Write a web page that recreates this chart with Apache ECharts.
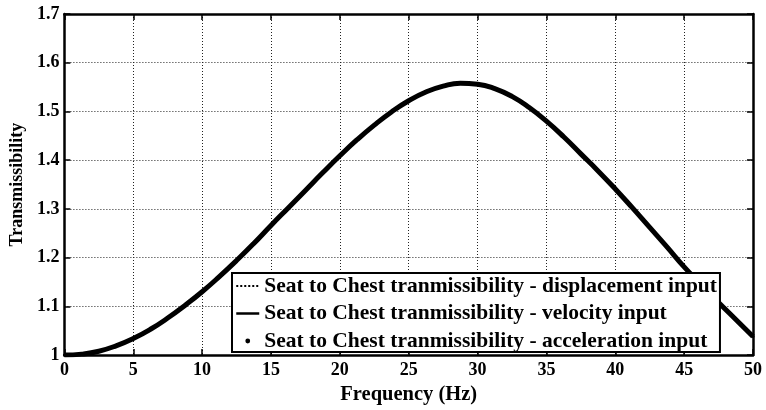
<!DOCTYPE html>
<html>
<head>
<meta charset="utf-8">
<script src="https://cdn.jsdelivr.net/npm/echarts@6/dist/echarts.min.js"></script>
<style>
html,body{margin:0;padding:0;background:#fff;}
#c{width:766px;height:410px;}
</style>
</head>
<body>
<div id="c"></div>
<script>
// Frequency (Hz)
const freq = [0, 1.25, 2.5, 3.75, 5, 6.25, 7.5, 8.75, 10, 11.25, 12.5, 13.75, 15, 16.25, 17.5, 18.75, 20,
  21.25, 22.5, 23.75, 25, 26.25, 27.5, 28.75, 30, 31.25, 32.5, 33.75, 35, 36.25, 37.5, 38.75, 40,
  41.25, 42.5, 43.75, 45, 46.25, 47.5, 48.75, 50];
// Seat to chest transmissibility (the three inputs coincide)
const transDisp = [1.000, 1.002, 1.008, 1.019, 1.034, 1.053, 1.076, 1.102, 1.130, 1.161, 1.194, 1.229, 1.266, 1.302, 1.338, 1.374, 1.409,
  1.442, 1.472, 1.499, 1.522, 1.540, 1.552, 1.558, 1.556, 1.547, 1.531, 1.508, 1.480, 1.448, 1.413, 1.378, 1.341,
  1.302, 1.262, 1.222, 1.181, 1.144, 1.108, 1.073, 1.038];
const transVel = [1.000, 1.002, 1.008, 1.019, 1.034, 1.053, 1.076, 1.102, 1.130, 1.161, 1.194, 1.229, 1.266, 1.302, 1.338, 1.374, 1.409,
  1.442, 1.472, 1.499, 1.522, 1.540, 1.552, 1.558, 1.556, 1.547, 1.531, 1.508, 1.480, 1.448, 1.413, 1.378, 1.341,
  1.302, 1.262, 1.222, 1.181, 1.144, 1.108, 1.073, 1.038];
const transAcc = [1.000, 1.002, 1.008, 1.019, 1.034, 1.053, 1.076, 1.102, 1.130, 1.161, 1.194, 1.229, 1.266, 1.302, 1.338, 1.374, 1.409,
  1.442, 1.472, 1.499, 1.522, 1.540, 1.552, 1.558, 1.556, 1.547, 1.531, 1.508, 1.480, 1.448, 1.413, 1.378, 1.341,
  1.302, 1.262, 1.222, 1.181, 1.144, 1.108, 1.073, 1.038];
const seriesNames = [
  'Seat to Chest tranmissibility - displacement input',
  'Seat to Chest tranmissibility - velocity input',
  'Seat to Chest tranmissibility - acceleration input'
];
const xTicks = {min: 0, max: 50, interval: 5};
const yTicks = {min: 1, max: 1.7, interval: 0.1};

const pairs = arr => freq.map((f, i) => [f, arr[i]]);
const FONT = 'Liberation Serif';
const labelStyle = {color: '#000', fontFamily: FONT, fontWeight: 'bold', fontSize: 18};
const gridLine = {show: true, lineStyle: {color: '#222', width: 1, type: [1, 2]}};
const axisLine = {show: true, onZero: false, lineStyle: {color: '#000', width: 2.5}};
const tick = {show: true, inside: true, length: 6, lineStyle: {color: '#000', width: 1.5}};

const chart = echarts.init(document.getElementById('c'), null, {renderer: 'canvas'});
chart.setOption({
  animation: false,
  backgroundColor: '#fff',
  grid: {left: 63, top: 14, right: 13, bottom: 53, containLabel: false},
  xAxis: [{
    type: 'value', min: xTicks.min, max: xTicks.max, interval: xTicks.interval,
    name: 'Frequency (Hz)', nameLocation: 'middle', nameGap: 26,
    nameTextStyle: Object.assign({}, labelStyle, {fontSize: 20.5}),
    axisLabel: Object.assign({margin: 6}, labelStyle),
    axisLine: axisLine, axisTick: tick, splitLine: gridLine
  }, {
    type: 'value', position: 'top', min: xTicks.min, max: xTicks.max, interval: xTicks.interval,
    axisLabel: {show: false}, axisLine: axisLine, axisTick: tick, splitLine: {show: false}
  }],
  yAxis: [{
    type: 'value', min: yTicks.min, max: yTicks.max, interval: yTicks.interval,
    name: 'Transmissibility', nameLocation: 'middle', nameGap: 31, nameRotate: 90,
    nameTextStyle: labelStyle,
    axisLabel: Object.assign({margin: 5}, labelStyle),
    axisLine: axisLine, axisTick: tick, splitLine: gridLine
  }, {
    type: 'value', position: 'right', min: yTicks.min, max: yTicks.max, interval: yTicks.interval,
    axisLabel: {show: false}, axisLine: axisLine, axisTick: tick, splitLine: {show: false}
  }],
  legend: {
    orient: 'vertical', left: 232, top: 273, z: 10,
    backgroundColor: '#fff', borderColor: '#000', borderWidth: 2, borderRadius: 0,
    padding: [2, 3, 0, 3], itemGap: 5.5, itemWidth: 23, itemHeight: 6,
    textStyle: {color: '#000', fontFamily: FONT, fontWeight: 'bold', fontSize: 21.5},
    selectedMode: false,
    data: [
      {name: seriesNames[0], itemStyle: {opacity: 0}, lineStyle: {width: 2, type: [2, 2], color: '#000'}},
      {name: seriesNames[1], itemStyle: {opacity: 0}, lineStyle: {width: 2.5, type: 'solid', color: '#000'}},
      {name: seriesNames[2], itemStyle: {color: '#000', opacity: 1}, lineStyle: {opacity: 0, width: 0}}
    ]
  },
  series: [{
    name: seriesNames[0], type: 'line', data: pairs(transDisp), smooth: true,
    symbol: 'none', color: '#000', lineStyle: {color: '#000', width: 2, type: 'dotted'}, z: 2
  }, {
    name: seriesNames[1], type: 'line', data: pairs(transVel), smooth: true,
    symbol: 'none', color: '#000', lineStyle: {color: '#000', width: 5}, z: 2
  }, {
    name: seriesNames[2], type: 'line', data: pairs(transAcc), smooth: true,
    symbol: 'circle', symbolSize: 3, showSymbol: true, color: '#000',
    itemStyle: {color: '#000'}, lineStyle: {color: '#000', width: 0, opacity: 0}, z: 2
  }]
});
</script>
</body>
</html>
